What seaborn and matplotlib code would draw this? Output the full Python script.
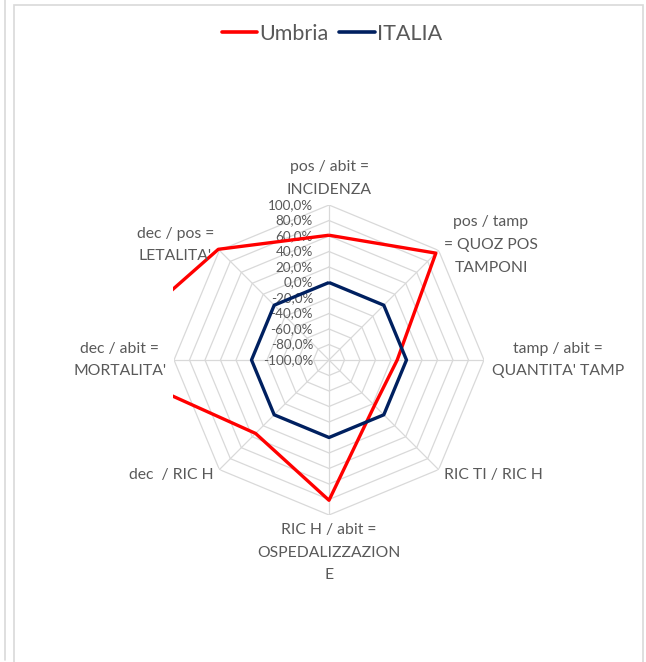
import numpy as np
import pandas as pd
import matplotlib
matplotlib.use("Agg")
import matplotlib.pyplot as plt
from matplotlib.patches import Rectangle
from matplotlib.lines import Line2D
from matplotlib.transforms import offset_copy
import seaborn as sns

categories = [
    "pos / abit =\nINCIDENZA",
    "pos / tamp\n= QUOZ POS\nTAMPONI",
    "tamp / abit =\nQUANTITA' TAMP",
    "RIC TI / RIC H",
    "RIC H / abit =\nOSPEDALIZZAZION\nE",
    "dec  / RIC H",
    "dec / abit =\nMORTALITA'",
    "dec / pos =\nLETALITA'",
]
umbria = [0.61, 0.95, -0.12, -0.17, 0.81, 0.34, 2.05, 1.02]
italia = [0.0, 0.0, 0.0, 0.0, 0.0, 0.0, 0.0, 0.0]
ticks = [-1.0, -0.8, -0.6, -0.4, -0.2, 0.0, 0.2, 0.4, 0.6, 0.8, 1.0]
tick_labels = [f"{t * 100:.1f}%".replace(".", ",") for t in ticks]
series_names = ["Umbria", "ITALIA"]
colors = {"Umbria": "#FF0000", "ITALIA": "#002060"}

sns.set_theme(style="white")
plt.rcParams["font.family"] = ["Lato", "DejaVu Sans"]
text_col = "#595959"
grid_col = "#d9d9d9"

W, H = 646, 662
fig = plt.figure(figsize=(W / 100, H / 100), dpi=100)

# outer chart frame + stray neighbour border
fig.add_artist(Rectangle((14 / W, -0.01), (643 - 14) / W, 1.01 - 5 / H,
                         transform=fig.transFigure, fill=False,
                         edgecolor="#d9d9d9", lw=1.2))
fig.add_artist(Line2D([5 / W, 5 / W], [2 / H, 1.0], transform=fig.transFigure,
                      color="#d9d9d9", lw=1.2))

cx, cy, rad = 329, 360, 155
ax = fig.add_axes([(cx - rad) / W, (H - cy - rad) / H, 2 * rad / W, 2 * rad / H],
                  projection="polar")
ax.set_theta_zero_location("N")
ax.set_theta_direction(-1)
ax.set_ylim(-1, 1)
ax.grid(False)
ax.spines["polar"].set_visible(False)
ax.set_xticks([])
ax.set_yticks([])
ax.patch.set_alpha(0)

n = len(categories)
angles = np.linspace(0, 2 * np.pi, n, endpoint=False)
closed = np.append(angles, angles[0])

# octagonal grid
for t in ticks:
    ax.plot(closed, [t] * (n + 1), color=grid_col, lw=0.9, zorder=1)
for a in angles:
    ax.plot([a, a], [-1, 1], color=grid_col, lw=0.9, zorder=1)

rows = []
for name, vals in zip(series_names, [umbria, italia]):
    for a, v in zip(closed, vals + vals[:1]):
        rows.append({"theta": a, "value": v, "region": name})
df = pd.DataFrame(rows)

n_before = len(ax.lines)
sns.lineplot(data=df, x="theta", y="value", hue="region", palette=colors,
             sort=False, estimator=None, lw=2.4, ax=ax, legend=False, zorder=3)
data_lines = ax.lines[n_before:]

clip = Rectangle((173 / W, 40 / H), (640 - 173) / W, 580 / H,
                 transform=fig.transFigure, visible=False)
fig.add_artist(clip)
for ln in data_lines:
    ln.set_clip_path(clip)
    ln.set_solid_capstyle("butt")
ax.set_xlabel("")
ax.set_ylabel("")

# value labels along the top spoke
tr = offset_copy(ax.transData, fig=fig, x=-16, y=0, units="dots")
for t, lab in zip(ticks, tick_labels):
    ax.text(0, t, lab, transform=tr, ha="right", va="center",
            fontsize=9.7, color=text_col, zorder=2)

# category labels
for a, lab in zip(angles, categories):
    s, c = np.sin(a), np.cos(a)
    ha = "center" if abs(s) < 0.1 else ("left" if s > 0 else "right")
    va = "center"
    if abs(s) < 0.1:
        va = "bottom" if c > 0 else "top"
    ax.text(a, 1.1, lab, ha=ha, va=va, multialignment="center",
            fontsize=11.3, color=text_col, linespacing=1.8)

handles = [Line2D([], [], color=colors[nm], lw=2.6) for nm in series_names]
fig.legend(handles, series_names, loc="center",
           bbox_to_anchor=(332 / W, 1 - 34 / H), ncol=2, frameon=False,
           fontsize=15.5, handlelength=1.65, handletextpad=0.1,
           columnspacing=0.5, labelcolor=text_col)

fig.savefig("out.png", dpi=100)
